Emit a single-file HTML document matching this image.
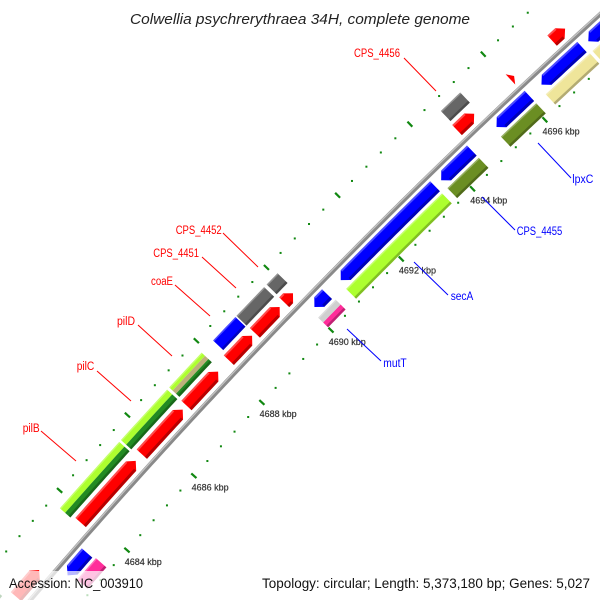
<!DOCTYPE html>
<html><head><meta charset="utf-8">
<style>
html,body{margin:0;padding:0;background:#fff;width:600px;height:600px;overflow:hidden;}
svg{display:block;font-family:"Liberation Sans",sans-serif;}
</style></head>
<body>
<svg id="map" width="600" height="600" viewBox="0 0 600 600" xmlns="http://www.w3.org/2000/svg">
<rect width="600" height="600" fill="#fff"/>
<g id="dots"></g>
<g id="backbone"></g>
<g id="features"></g>
<g id="ticks"></g>
<g id="labels">
 <g fill="none" stroke-width="1">
  <line x1="41" y1="431" x2="76" y2="461" stroke="#f00"/>
  <line x1="97" y1="371" x2="131" y2="401" stroke="#f00"/>
  <line x1="138" y1="325" x2="172" y2="356" stroke="#f00"/>
  <line x1="175" y1="285" x2="210" y2="316" stroke="#f00"/>
  <line x1="202" y1="257" x2="236" y2="288" stroke="#f00"/>
  <line x1="223" y1="233" x2="258" y2="267" stroke="#f00"/>
  <line x1="404" y1="58" x2="436" y2="91" stroke="#f00"/>
  <line x1="347" y1="329" x2="381" y2="361" stroke="#00f"/>
  <line x1="414" y1="262" x2="448" y2="295" stroke="#00f"/>
  <line x1="482" y1="197" x2="515" y2="230" stroke="#00f"/>
  <line x1="538" y1="143" x2="571" y2="178" stroke="#00f"/>
 </g>
 <g font-size="11.5">
  <text x="22.7" y="432" fill="#f00" textLength="17" lengthAdjust="spacingAndGlyphs">pilB</text>
  <text x="76.7" y="370" fill="#f00" textLength="17.6" lengthAdjust="spacingAndGlyphs">pilC</text>
  <text x="117" y="325" fill="#f00" textLength="18" lengthAdjust="spacingAndGlyphs">pilD</text>
  <text x="151" y="285" fill="#f00" textLength="22" lengthAdjust="spacingAndGlyphs">coaE</text>
  <text x="153.3" y="257" fill="#f00" textLength="45.7" lengthAdjust="spacingAndGlyphs">CPS_4451</text>
  <text x="175.7" y="234" fill="#f00" textLength="46" lengthAdjust="spacingAndGlyphs">CPS_4452</text>
  <text x="354" y="57" fill="#f00" textLength="46" lengthAdjust="spacingAndGlyphs">CPS_4456</text>
  <text x="383.3" y="367" fill="#00f" textLength="23.4" lengthAdjust="spacingAndGlyphs">mutT</text>
  <text x="450.7" y="300" fill="#00f" textLength="22.6" lengthAdjust="spacingAndGlyphs">secA</text>
  <text x="516.7" y="235" fill="#00f" textLength="45.6" lengthAdjust="spacingAndGlyphs">CPS_4455</text>
  <text x="572.3" y="183" fill="#00f" textLength="21" lengthAdjust="spacingAndGlyphs">lpxC</text>
 </g>
</g>
<text x="130" y="24" font-size="15" font-style="italic" fill="#222" textLength="340" lengthAdjust="spacingAndGlyphs">Colwellia psychrerythraea 34H, complete genome</text>
<rect x="0" y="571" width="148" height="29" fill="#fff" fill-opacity="0.72"/>
<rect x="255" y="571" width="345" height="29" fill="#fff" fill-opacity="0.72"/>
<text x="9" y="588" font-size="14" fill="#111" textLength="134" lengthAdjust="spacingAndGlyphs">Accession: NC_003910</text>
<text x="262" y="588" font-size="14" fill="#111" textLength="328" lengthAdjust="spacingAndGlyphs">Topology: circular; Length: 5,373,180 bp; Genes: 5,027</text>
</svg>
<script>
// ---- data (kbp) ----
const featStart = [4681.0,4681.85,4683.8,4685.62,4686.93,4688.16,4688.91,4689.75,4694.59,4696.05,4697.18,
  4681.0,4683.74,4685.55,4686.96,4688.23,4688.9,4689.76,4694.62,
  4682.84,4690.1,4690.85,4693.67,4695.2,4696.43,4697.7,
  4682.9,4690.0,4690.8,4693.65,4695.13,4696.36,4697.63];
const featEnd = [4681.75,4682.55,4685.44,4686.82,4687.85,4688.83,4689.62,4690.0,4695.06,4696.15,4697.53,
  4681.68,4685.5,4686.9,4687.9,4688.87,4689.69,4690.07,4695.15,
  4683.43,4690.46,4693.5,4694.52,4696.1,4697.53,4699.5,
  4683.47,4690.5,4693.5,4694.52,4696.1,4697.56,4699.5];
const featRing = [1,1,1,1,1,1,1,1,1,1,1,
  2,2,2,2,2,2,2,2,
  -1,-1,-1,-1,-1,-1,-1,
  -2,-2,-2,-2,-2,-2,-2];
const featCats = ["cds","cds","cds","cds","cds","cds","cds","cds","cds","cds","cds",
  "dgreen","lgreen,dgreen","lgreen,dgreen","lgreen,khakid,dgreen","blue","gray","gray","gray",
  "blue","blue","blue","blue","blue","blue","blue",
  "pink","pink,lgray","lgreen","olive","olive","khaki","khaki"];
const tickKbp = [4684,4686,4688,4690,4692,4694,4696];
const tickLabels = ["4684 kbp","4686 kbp","4688 kbp","4690 kbp","4692 kbp","4694 kbp","4696 kbp"];

// ---- geometry ----
const COLORS = {cds:"#ff0000",blue:"#0000ff",gray:"#666666",lgreen:"#adff2f",dgreen:"#228b22",
  khakid:"#bdb07a",olive:"#6b8e23",khaki:"#efe59a",pink:"#ff2d9a",lgray:"#cfcfcf"};
const CX=5037.2, CY=4900.2, RB=6600, K0=4690.07, TH0=Math.atan2(-0.697,-0.717), DTH=0.007623;
const RINGS = {"1":[RB+6,RB+20],"2":[RB+24,RB+38],"-1":[RB-5,RB-19],"-2":[RB-22,RB-36]};
const NS="http://www.w3.org/2000/svg";
function th(k){return TH0+(k-K0)*DTH;}
function pt(k,r){const t=th(k);return [CX+r*Math.cos(t),CY+r*Math.sin(t)];}
function arc(k0,k1,r){const n=Math.max(2,Math.ceil(Math.abs(k1-k0)/0.1)+1);const a=[];
  for(let i=0;i<n;i++){a.push(pt(k0+(k1-k0)*i/(n-1),r));}return a;}
function ps(a){return a.map(p=>p[0].toFixed(2)+","+p[1].toFixed(2)).join(" ");}

// backbone
const bb=document.getElementById('backbone');
const bbLine=document.createElementNS(NS,'polyline');


bbLine.setAttribute('points',ps(arc(4679,4701,RB)));
bbLine.setAttribute('fill','none');bbLine.setAttribute('stroke','#8a8a8a');bbLine.setAttribute('stroke-width','4.5');
bb.appendChild(bbLine);
const bbHi=document.createElementNS(NS,'polyline');


bbHi.setAttribute('points',ps(arc(4679,4701,RB+1.2)));
bbHi.setAttribute('fill','none');bbHi.setAttribute('stroke','#c4c4c4');bbHi.setAttribute('stroke-width','1.3');
bb.appendChild(bbHi);

// dots rows
const dg=document.getElementById('dots');
for(let i=0;i<=55;i++){
  const k=4679.2+i*0.4;
  const major=Math.abs(k-Math.round(k))<0.01 && Math.round(k)%2===0;
  [RB+50,RB-40].forEach(r=>{
    if(major){
      const a=pt(k,r-3.5), b=pt(k,r+3.5);
      const ln=document.createElementNS(NS,'line');
      
      
      ln.setAttribute('x1',a[0]);ln.setAttribute('y1',a[1]);ln.setAttribute('x2',b[0]);ln.setAttribute('y2',b[1]);
      ln.setAttribute('stroke','#118811');ln.setAttribute('stroke-width','2.2');
      dg.appendChild(ln);
    } else {
      const p=pt(k,r);
      const c=document.createElementNS(NS,'rect');
      
      
      c.setAttribute('x',p[0]-1);c.setAttribute('y',p[1]-1);c.setAttribute('width',2);c.setAttribute('height',2);
      c.setAttribute('fill','#118811');
      dg.appendChild(c);
    }
  });
}

// tick labels
const tg=document.getElementById('ticks');
tickKbp.forEach((k,i)=>{
  const p=pt(k,RB-41);
  const t=document.createElementNS(NS,'text');
  
  
  t.setAttribute('x',p[0]-3);t.setAttribute('y',p[1]+14);
  t.setAttribute('font-size','9');t.setAttribute('fill','#333');
  t.setAttribute('stroke','#333');t.setAttribute('stroke-width','0.2');
  t.textContent=tickLabels[i];
  tg.appendChild(t);
});

// features
const fg=document.getElementById('features');
function poly(points,fill,name){
  const p=document.createElementNS(NS,'polygon');
  
  
  p.setAttribute('points',ps(points));p.setAttribute('fill',fill);
  fg.appendChild(p);return p;
}
featStart.forEach((s,i)=>{
  const e=featEnd[i], ring=featRing[i];
  const rr=RINGS[String(ring)];
  const rNear=rr[0], rFar=rr[1];
  const rLo=Math.min(rNear,rFar), rHi=Math.max(rNear,rFar), rm=(rLo+rHi)/2;
  const cats=featCats[i].split(",");
  const name='feature-'+(ring>0?'fwd':'rev')+'-ring'+Math.abs(ring)+'-'+i;
  if(Math.abs(ring)===1){
    const h=Math.min(0.14,e-s);
    let pts, b0=s, b1=e;
    if(ring>0){ b1=e-h;
      pts=(b1>s?arc(s,b1,rHi):[pt(s,rHi)]).concat([pt(e,rm)]).concat(b1>s?arc(b1,s,rLo):[pt(s,rLo)]);
    } else { b0=s+h;
      pts=[pt(s,rm)].concat(b0<e?arc(b0,e,rHi):[pt(e,rHi)]).concat(b0<e?arc(e,b0,rLo):[pt(e,rLo)]);
    }
    poly(pts,COLORS[cats[0]],name);
    if(b1-b0>0.02){
      poly(arc(b0,b1,rLo+3).concat(arc(b1,b0,rLo)),"rgba(0,0,0,0.28)",name+'-shade');
      poly(arc(b0,b1,rHi).concat(arc(b1,b0,rHi-2)),"rgba(255,255,255,0.3)",name+'-highlight');
    }
  } else {
    const n=cats.length;
    cats.forEach((c,j)=>{
      const ra=rFar+(rNear-rFar)*j/n, rb=rFar+(rNear-rFar)*(j+1)/n;
      poly(arc(s,e,ra).concat(arc(e,s,rb)),COLORS[c],name+'-part'+j);
    });
    poly(arc(s,e,rLo+2.5).concat(arc(e,s,rLo)),"rgba(0,0,0,0.25)",name+'-shade');
    poly(arc(s,e,rHi).concat(arc(e,s,rHi-1.5)),"rgba(255,255,255,0.3)",name+'-highlight');
  }
});
</script>
</body></html>
